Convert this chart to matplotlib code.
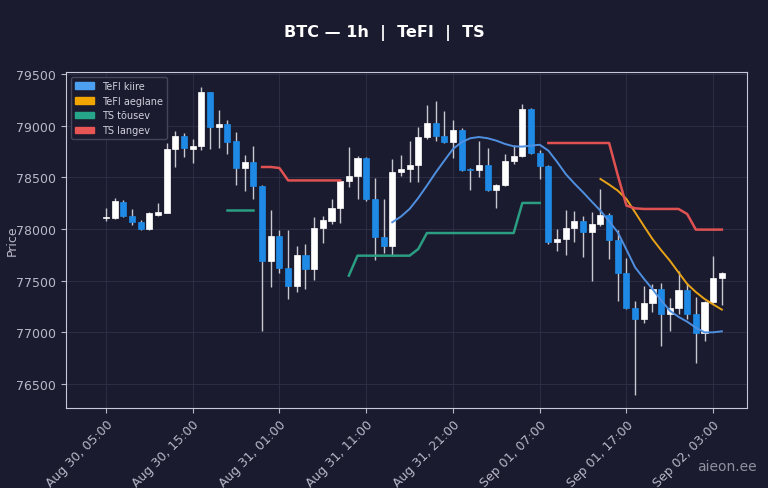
import matplotlib
matplotlib.use("Agg")
import matplotlib.pyplot as plt
import matplotlib.patches as mpatches
import numpy as np

opens  = [78110,78110,78260,78130,78070,78000,78140,78150,78770,78900,78770,78800,79330,78990,79020,78850,78590,78650,78420,77690,
          77930,77620,77450,77750,77610,78010,78080,78200,78460,78510,78690,78290,77920,77840,78550,78580,78620,78890,79030,78900,
          78840,78960,78580,78570,78620,78380,78430,78660,78710,79160,78740,78610,77870,77900,78010,78080,77970,78050,78140,77890,
          77570,77240,77130,77280,77420,77180,77240,77410,77180,76990,77290,77530]
closes = [78120,78270,78130,78070,78000,78150,78160,78770,78900,78780,78800,79330,78990,79020,78840,78590,78650,78420,77690,77930,
          77620,77450,77750,77610,78010,78090,78200,78460,78510,78690,78290,77920,77840,78550,78580,78620,78890,79030,78900,78840,
          78960,78570,78570,78620,78380,78430,78660,78710,79160,78740,78610,77870,77900,78010,78080,77970,78050,78140,77890,77570,
          77240,77130,77280,77420,77180,77240,77410,77180,76990,77290,77530,77570]
highs  = [78200,78300,78280,78190,78090,78160,78250,78830,78950,78930,78870,79370,79330,79150,79050,78940,78720,78800,78430,78180,
          77990,77990,77840,77850,78120,78130,78290,78470,78790,78710,78700,78490,78290,78680,78720,78850,78990,79200,79240,79140,
          79050,78980,78590,78850,78780,78440,78730,78810,79210,79170,78760,78620,78000,78180,78170,78130,78160,78390,78150,77990,
          77720,77300,77450,77470,77480,77330,77590,77480,77340,77300,77740,77580]
lows   = [78080,78100,78120,78040,77990,77990,78130,78150,78600,78700,78640,78760,78770,78780,78730,78430,78370,78290,77010,77440,
          77570,77320,77390,77420,77510,77860,78050,78060,78410,78290,78270,77700,77770,77740,78510,78450,78450,78870,78850,78830,
          78690,78560,78380,78500,78370,78200,78420,78630,78700,78730,78480,77850,77790,77750,77870,77730,77500,78030,77710,77300,
          77230,76390,77090,77200,76870,77010,77180,77130,76700,76920,77280,77260]

tick_labels = ["Aug 30, 05:00","Aug 30, 15:00","Aug 31, 01:00","Aug 31, 11:00","Aug 31, 21:00",
               "Sep 01, 07:00","Sep 01, 17:00","Sep 02, 03:00"]

tefi_fast_idx = [33,34,35,36,37,38,39,40,41,42,43,44,45,46,47,48,49,50,51,52,53,54,55,56,57,58,59,60,61,62,63,64,65,66,67,68,69,70,71]
tefi_fast_val = [78065,78120,78194,78300,78420,78545,78661,78774,78840,78878,78890,78878,78855,78823,78800,78797,78807,78815,78758,78650,
                 78532,78440,78355,78265,78177,78075,77968,77800,77629,77520,77419,77310,77210,77150,77103,77045,77000,77000,77010]
tefi_slow_idx = [57,58,59,60,61,62,63,64,65,66,67,68,69,70,71]
tefi_slow_val = [78484,78430,78371,78290,78161,78030,77903,77795,77694,77580,77468,77390,77323,77270,77220]
ts_up1_idx = [14,15,16,17]
ts_up1_val = [78180,78180,78180,78180]
ts_up2_idx = [28,29,30,31,32,33,34,35,36,37,38,39,40,41,42,43,44,45,46,47,48,49,50]
ts_up2_val = [77549,77742,77742,77742,77742,77742,77742,77742,77806,77961,77961,77961,77961,77961,77961,77961,77961,77961,77961,77961,78252,78252,78252]
ts_dn1_idx = [18,19,20,21,22,23,24,25,26,27]
ts_dn1_val = [78600,78600,78590,78470,78470,78470,78470,78470,78470,78470]
ts_dn2_idx = [51,52,53,54,55,56,57,58,59,60,61,62,63,64,65,66,67,68,69,70,71]
ts_dn2_val = [78832,78832,78832,78832,78832,78832,78832,78832,78520,78226,78200,78194,78194,78194,78194,78194,78145,77994,77994,77994,77994]

BG = "#1b1b2f"
UP = "#ffffff"
DN = "#1e8ae6"
WICK = "#c8c8d0"

fig = plt.figure(figsize=(7.68, 4.89), dpi=100, facecolor=BG)
ax = fig.add_axes([0.086, 0.1636, 0.8867, 0.6871], facecolor=BG)

x = np.arange(len(opens))
for i in x:
    o, c, h, l = opens[i], closes[i], highs[i], lows[i]
    col = UP if c >= o else DN
    ax.vlines(i, l, h, color=WICK, linewidth=1, zorder=2)
    bot = min(o, c); ht = max(abs(c - o), 8)
    ax.add_patch(mpatches.Rectangle((i - 0.35, bot), 0.7, ht, facecolor=col, edgecolor=col, linewidth=0.5, zorder=3))

c_fast = "#4f8fe0"; c_slow = "#e8a317"; c_up = "#2a9d82"; c_dn = "#e05252"
ax.plot(tefi_fast_idx, tefi_fast_val, color=c_fast, lw=1.4, zorder=4)
ax.plot(tefi_slow_idx, tefi_slow_val, color=c_slow, lw=1.4, zorder=4)
ax.plot(ts_up1_idx, ts_up1_val, color=c_up, lw=1.8, zorder=4)
ax.plot(ts_up2_idx, ts_up2_val, color=c_up, lw=1.8, zorder=4)
ax.plot(ts_dn1_idx, ts_dn1_val, color=c_dn, lw=1.8, zorder=4)
ax.plot(ts_dn2_idx, ts_dn2_val, color=c_dn, lw=1.8, zorder=4)

ax.set_xlim(-4.6, 73.9)
ax.set_ylim(76268, 79519)
ax.set_xticks(np.arange(0, 71, 10))
ax.set_xticklabels(tick_labels, rotation=45, ha="right", rotation_mode="anchor")
ax.set_yticks([76500, 77000, 77500, 78000, 78500, 79000, 79500])
ax.tick_params(colors="#b8b8c8", labelsize=9)
ax.grid(True, color="#2c2c44", linewidth=0.8, zorder=0)
for s in ax.spines.values():
    s.set_color("#c8c8d8")
ax.set_ylabel("Price", color="#b8b8c8", fontsize=9)
ax.yaxis.set_label_coords(-0.07, 0.5)

handles = [mpatches.Patch(color="#4da0f0", label="TeFI kiire"),
           mpatches.Patch(color="#f0a500", label="TeFI aeglane"),
           mpatches.Patch(color="#26a58a", label="TS tõusev"),
           mpatches.Patch(color="#e85555", label="TS langev")]
leg = ax.legend(handles=handles, loc="upper left", fontsize=7, facecolor=BG, edgecolor="#44445a", framealpha=1)
for t in leg.get_texts():
    t.set_color("#d0d0dc")

fig.text(0.5, 0.932, "BTC — 1h  |  TeFI  |  TS", ha="center", va="center", color="white", fontsize=11.5, fontweight="bold")
fig.text(0.985, 0.045, "aieon.ee", ha="right", va="center", color="#9090a0", fontsize=10)

fig.savefig("out.png", dpi=100, facecolor=BG)
